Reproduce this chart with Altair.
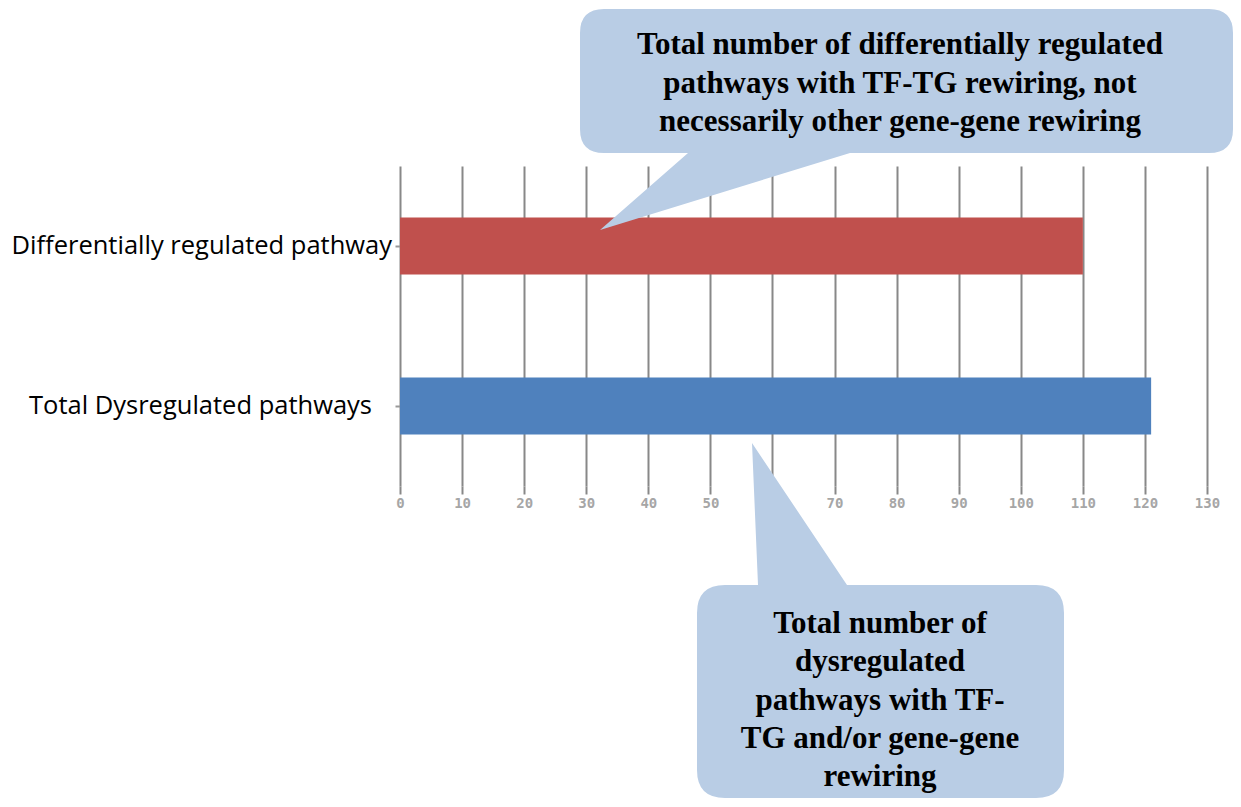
import altair as alt
import pandas as pd

categories = ["Differentially regulated pathway", "Total Dysregulated pathways"]
values = [110, 121]
bar_colors = ["#c0504d", "#4f81bd"]
x_ticks = list(range(0, 131, 10))

callout_top_lines = [
    "Total number of differentially regulated",
    "pathways with TF-TG rewiring, not",
    "necessarily other gene-gene rewiring",
]
callout_bottom_lines = [
    "Total number of",
    "dysregulated",
    "pathways with TF-",
    "TG and/or gene-gene",
    "rewiring",
]

CALLOUT_FILL = "#b9cde5"

df = pd.DataFrame({"category": categories, "value": values})

y_enc = alt.Y(
    "category:N",
    sort=categories,
    scale=alt.Scale(paddingInner=0, paddingOuter=0),
    axis=alt.Axis(
        title=None,
        domain=False,
        grid=False,
        ticks=True,
        tickSize=5,
        tickColor="#999999",
        tickWidth=2,
        labels=False,
    ),
)

bars = alt.Chart(df).mark_bar(size=57).encode(
    x=alt.X(
        "value:Q",
        scale=alt.Scale(domain=[0, 130], nice=False, zero=True),
        axis=alt.Axis(
            values=x_ticks,
            title=None,
            grid=True,
            gridColor="#888888",
            gridWidth=2,
            gridOpacity=1,
            domain=False,
            ticks=True,
            tickSize=8,
            tickColor="#888888",
            tickWidth=2,
            labelFont="DejaVu Sans Mono",
            labelFontSize=14,
            labelFontWeight="bold",
            labelColor="#a6a6a6",
            labelPadding=2,
            labelFlush=False,
            labelOverlap=False,
        ),
    ),
    y=y_enc,
    color=alt.Color(
        "category:N",
        scale=alt.Scale(domain=categories, range=bar_colors),
        legend=None,
    ),
)

label_style = dict(
    font="Open Sans", fontSize=25.5, align="right", baseline="middle", color="#000000"
)

label_top = alt.Chart(df).transform_filter(
    alt.datum.category == categories[0]
).mark_text(**label_style).encode(
    y=alt.Y("category:N", sort=categories), x=alt.value(-8), text="category:N"
)

label_bottom = alt.Chart(df).transform_filter(
    alt.datum.category == categories[1]
).mark_text(**label_style).encode(
    y=alt.Y("category:N", sort=categories), x=alt.value(-28), text="category:N"
)

one = pd.DataFrame({"k": [0]})

path_top = (
    "M 204 -157 L 809 -157 Q 833 -157 833 -133 L 833 -37 Q 833 -13 809 -13 "
    "L 450 -13 L 200 64 L 288 -13 L 204 -13 Q 180 -13 180 -37 L 180 -133 "
    "Q 180 -157 204 -157 Z"
)
path_bottom = (
    "M 325 419 L 358 419 L 352 277 L 447 419 L 636 419 Q 664 419 664 447 "
    "L 664 604 Q 664 632 636 632 L 325 632 Q 297 632 297 604 L 297 447 "
    "Q 297 419 325 419 Z"
)

callout_top_shape = alt.Chart(one).mark_point(
    shape=path_top, size=4, filled=True, fill=CALLOUT_FILL, opacity=1, strokeWidth=0
).encode(x=alt.value(0), y=alt.value(0))

callout_bottom_shape = alt.Chart(one).mark_point(
    shape=path_bottom, size=4, filled=True, fill=CALLOUT_FILL, opacity=1, strokeWidth=0
).encode(x=alt.value(0), y=alt.value(0))

callout_top_text = alt.Chart(one).mark_text(
    text=callout_top_lines,
    font="Liberation Serif",
    fontWeight="bold",
    fontSize=31,
    lineHeight=38.5,
    align="center",
    baseline="middle",
    color="#000000",
).encode(x=alt.value(500), y=alt.value(-121))

callout_bottom_text = alt.Chart(one).mark_text(
    text=callout_bottom_lines,
    font="Liberation Serif",
    fontWeight="bold",
    fontSize=31,
    lineHeight=38.3,
    align="center",
    baseline="middle",
    color="#000000",
).encode(x=alt.value(480), y=alt.value(458))

chart = alt.layer(
    bars,
    label_top,
    label_bottom,
    callout_top_shape,
    callout_bottom_shape,
    callout_top_text,
    callout_bottom_text,
).properties(
    width=807,
    height=320,
    padding={"left": 392, "top": 158, "right": 26, "bottom": 313},
    autosize=alt.AutoSizeParams(type="none"),
).configure_view(strokeWidth=0)

chart.save("out.html", embed_options={"renderer": "svg", "actions": False})
